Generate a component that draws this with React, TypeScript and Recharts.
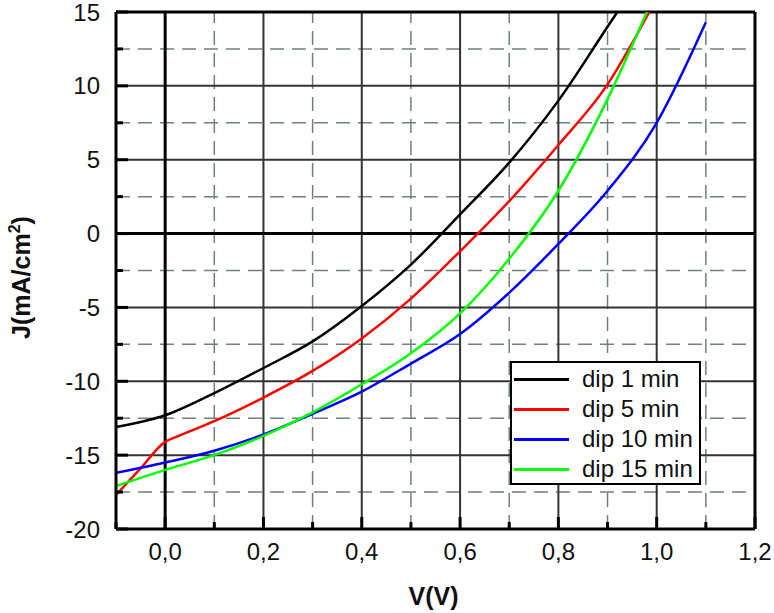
import { LineChart, Line, XAxis, YAxis, ReferenceLine, Legend, Label } from "recharts";

// J-V curves
const volt1 = [-0.1, 0, 0.1, 0.2, 0.3, 0.4, 0.5, 0.6, 0.7, 0.8, 0.9, 0.92];
const dip1 = [-13.1, -12.3, -10.8, -9.1, -7.3, -4.9, -2.1, 1.3, 4.8, 9.0, 14.0, 15.0];

const volt5 = [-0.1, -0.05, 0, 0.02, 0.1, 0.2, 0.3, 0.4, 0.5, 0.6, 0.7, 0.8, 0.9, 0.985];
const dip5 = [-17.7, -15.9, -14.1, -13.8, -12.7, -11.1, -9.3, -7.1, -4.4, -1.2, 2.2, 6.0, 10.1, 15.0];

const volt10 = [-0.1, 0, 0.1, 0.2, 0.3, 0.4, 0.5, 0.6, 0.7, 0.8, 0.9, 1.0, 1.1];
const dip10 = [-16.2, -15.5, -14.7, -13.6, -12.2, -10.7, -8.8, -6.8, -4.0, -0.7, 2.9, 7.5, 14.3];

const volt15 = [-0.1, 0, 0.1, 0.2, 0.3, 0.4, 0.5, 0.6, 0.7, 0.8, 0.9, 0.98];
const dip15 = [-17.1, -16.0, -15.0, -13.7, -12.1, -10.2, -8.1, -5.4, -1.7, 2.9, 9.1, 15.0];

const seriesNames = ["dip 1 min", "dip 5 min", "dip 10 min", "dip 15 min"];
const seriesColors = ["#000000", "#ff0000", "#0000ff", "#00ff00"];

const xTicks = [-0.1, 0, 0.1, 0.2, 0.3, 0.4, 0.5, 0.6, 0.7, 0.8, 0.9, 1.0, 1.1, 1.2];
const xLabelled = [0, 0.2, 0.4, 0.6, 0.8, 1.0, 1.2];
const yTicks = [-20, -17.5, -15, -12.5, -10, -7.5, -5, -2.5, 0, 2.5, 5, 7.5, 10, 12.5, 15];
const yLabelled = [-20, -15, -10, -5, 0, 5, 10, 15];

const xGridSolid = [0.2, 0.4, 0.6, 0.8, 1.0];
const xGridDashed = [0.1, 0.3, 0.5, 0.7, 0.9, 1.1];
const yGridSolid = [-15, -10, -5, 5, 10];
const yGridDashed = [-17.5, -12.5, -7.5, -2.5, 2.5, 7.5, 12.5];

const FONT = "'Liberation Sans', Arial, sans-serif";

const toRows = (v: number[], j: number[]) => v.map((x, i) => ({ v: x, j: j[i] }));
const series = [toRows(volt1, dip1), toRows(volt5, dip5), toRows(volt10, dip10), toRows(volt15, dip15)];

const near = (list: number[], v: number) => list.some((m) => Math.abs(m - v) < 1e-6);

const XTick = (props: any) => {
  const { x, y, payload } = props;
  const major = near(xLabelled, payload.value);
  return (
    <g>
      <line x1={x} x2={x} y1={y} y2={y - (major ? 12 : 7)} stroke="#000" strokeWidth={3} />
      {major && (
        <text x={x} y={y + 31} textAnchor="middle" fontSize={24} fontFamily={FONT} fill="#111">
          {payload.value.toFixed(1).replace(".", ",")}
        </text>
      )}
    </g>
  );
};

const YTick = (props: any) => {
  const { x, y, payload } = props;
  const major = near(yLabelled, payload.value);
  return (
    <g>
      <line x1={x} x2={x + (major ? 12 : 7)} y1={y} y2={y} stroke="#000" strokeWidth={3} />
      {major && (
        <text x={x - 16} y={y + 8.5} textAnchor="end" fontSize={24} fontFamily={FONT} fill="#111">
          {payload.value}
        </text>
      )}
    </g>
  );
};

const YTitle = (props: any) => {
  const vb = props.viewBox || { x: 0, y: 12, width: 116, height: 517 };
  const cx = vb.x + 30;
  const cy = vb.y + vb.height / 2 + 7;
  return (
    <text
      x={cx}
      y={cy}
      transform={`rotate(-90 ${cx} ${cy})`}
      textAnchor="middle"
      fontSize={25}
      fontWeight="bold"
      fontFamily={FONT}
      fill="#111"
    >
      J(mA/cm<tspan dy={-10} fontSize={16}>2</tspan>
      <tspan dy={10}>)</tspan>
    </text>
  );
};

const XTitle = (props: any) => {
  const vb = props.viewBox || { x: 116, y: 529, width: 639, height: 84 };
  return (
    <text
      x={vb.x + vb.width / 2 - 2}
      y={vb.y + 76}
      textAnchor="middle"
      fontSize={25}
      fontWeight="bold"
      fontFamily={FONT}
      fill="#111"
    >
      V(V)
    </text>
  );
};

const LegendBox = () => (
  <div
    style={{
      border: "2px solid #000",
      background: "#fff",
      width: 187,
      height: 120,
      fontFamily: FONT,
      whiteSpace: "nowrap",
    }}
  >
    {seriesNames.map((name, i) => (
      <div key={name} style={{ display: "flex", alignItems: "center", height: 30, marginTop: i === 0 ? 1 : 0 }}>
        <div style={{ width: 55, height: 3, background: seriesColors[i], marginLeft: 2, flex: "none" }} />
        <span style={{ marginLeft: 13, fontSize: 24, color: "#111", lineHeight: "30px" }}>{name}</span>
      </div>
    ))}
  </div>
);

export default function App() {
  return (
    <div style={{ position: "absolute", left: 0, top: 0, width: 774, height: 613, background: "#fff" }}>
      <LineChart width={774} height={613} margin={{ top: 12, right: 19, left: 0, bottom: 0 }}>
        {xGridDashed.map((v) => (
          <ReferenceLine key={"xd" + v} x={v} stroke="#6f8080" strokeWidth={1.5} strokeDasharray="14 8" zIndex={-100} />
        ))}
        {yGridDashed.map((v) => (
          <ReferenceLine key={"yd" + v} y={v} stroke="#6f8080" strokeWidth={1.5} strokeDasharray="14 8" zIndex={-100} />
        ))}
        {xGridSolid.map((v) => (
          <ReferenceLine key={"xs" + v} x={v} stroke="#333" strokeWidth={2} zIndex={-90} />
        ))}
        {yGridSolid.map((v) => (
          <ReferenceLine key={"ys" + v} y={v} stroke="#333" strokeWidth={2} zIndex={-90} />
        ))}
        <ReferenceLine x={0} stroke="#000" strokeWidth={3} zIndex={-80} />
        <ReferenceLine y={0} stroke="#000" strokeWidth={3} zIndex={-80} />
        <ReferenceLine x={1.2} stroke="#000" strokeWidth={3} zIndex={-80} />
        <ReferenceLine y={15} stroke="#000" strokeWidth={3} zIndex={-80} />

        <XAxis
          dataKey="v"
          type="number"
          domain={[-0.1, 1.2]}
          ticks={xTicks}
          interval={0}
          allowDataOverflow
          height={84}
          tickLine={false}
          tickSize={0}
          tickMargin={0}
          axisLine={{ stroke: "#000", strokeWidth: 3 }}
          tick={XTick}
        >
          <Label content={XTitle} />
        </XAxis>
        <YAxis
          dataKey="j"
          type="number"
          domain={[-20, 15]}
          ticks={yTicks}
          interval={0}
          allowDataOverflow
          width={116}
          tickLine={false}
          tickSize={0}
          tickMargin={0}
          axisLine={{ stroke: "#000", strokeWidth: 3 }}
          tick={YTick}
        >
          <Label content={YTitle} />
        </YAxis>

        {series.map((rows, i) => (
          <Line
            key={seriesNames[i]}
            data={rows}
            dataKey="j"
            name={seriesNames[i]}
            type="monotone"
            stroke={seriesColors[i]}
            strokeWidth={2.5}
            dot={false}
            activeDot={false}
            isAnimationActive={false}
          />
        ))}

        <Legend
          layout="vertical"
          align="center"
          verticalAlign="middle"
          content={LegendBox}
          wrapperStyle={{ left: 510, top: 361, width: 191 }}
        />
      </LineChart>
    </div>
  );
}
